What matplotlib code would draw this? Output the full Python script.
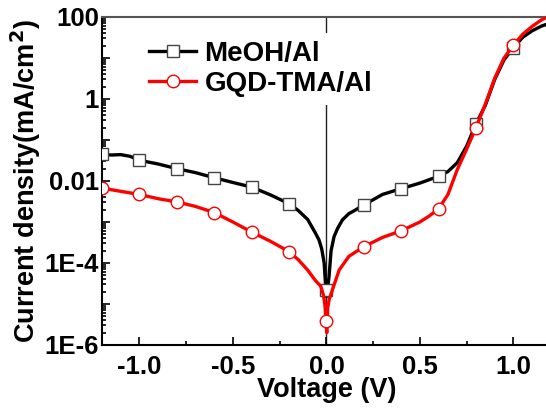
import numpy as np
import matplotlib
matplotlib.use('Agg')
import matplotlib.pyplot as plt
from matplotlib.lines import Line2D
from matplotlib.ticker import LogLocator, FixedLocator, FuncFormatter, NullFormatter

# MeOH/Al curve (voltage, current density)
v_meoh = [-1.2, -1.15, -1.1, -1.05, -1.0, -0.9, -0.8, -0.7, -0.6, -0.5, -0.4, -0.3,
          -0.2, -0.15, -0.1, -0.06, -0.04, -0.025, -0.012, -0.004, 0.0, 0.004, 0.014,
          0.025, 0.041, 0.06, 0.086, 0.12, 0.15, 0.2, 0.3, 0.4, 0.5, 0.6, 0.65, 0.7,
          0.75, 0.8, 0.85, 0.9, 0.95, 1.0, 1.05, 1.1, 1.15, 1.2]
j_meoh = [0.045, 0.043, 0.044, 0.040, 0.032, 0.026, 0.020, 0.016, 0.012, 0.0092, 0.0071,
          0.0046, 0.0028, 0.0019, 0.00115, 5.5e-4, 3.7e-4, 2.2e-4, 1.0e-4, 2.7e-5, 1.5e-5,
          2.0e-5, 4.6e-5, 2.0e-4, 4.4e-4, 7.0e-4, 0.00113, 0.0016, 0.0019, 0.0026, 0.0047,
          0.0065, 0.0089, 0.013, 0.017, 0.028, 0.071, 0.25, 0.7, 3.0, 9.0, 18, 32, 46, 60, 72]

# GQD-TMA/Al curve
v_gqd = [-1.2, -1.1, -1.0, -0.9, -0.8, -0.7, -0.6, -0.5, -0.4, -0.3, -0.2, -0.15, -0.1,
         -0.06, -0.03, -0.015, -0.007, -0.002, 0.002, 0.007, 0.015, 0.032, 0.068, 0.12,
         0.2, 0.3, 0.4, 0.5, 0.55, 0.6, 0.65, 0.7, 0.75, 0.8, 0.85, 0.9, 0.95, 1.0, 1.05,
         1.1, 1.15, 1.2]
j_gqd = [0.0067, 0.0056, 0.0047, 0.0037, 0.0031, 0.0024, 0.0017, 0.0010, 5.7e-4, 3.4e-4,
         1.9e-4, 1.2e-4, 6.7e-5, 3.8e-5, 2.7e-5, 1.6e-5, 8.7e-6, 3.5e-6, 2.0e-6, 8.0e-6,
         1.3e-5, 2.2e-5, 6.7e-5, 1.45e-4, 2.5e-4, 4.2e-4, 6.1e-4, 0.0010, 0.0014, 0.0021,
         0.0047, 0.019, 0.06, 0.2, 0.75, 3.2, 10, 20.5, 38, 59, 85, 110]

# symbols every 0.2 V
v_mark = [-1.2, -1.0, -0.8, -0.6, -0.4, -0.2, 0.0, 0.2, 0.4, 0.6, 0.8, 1.0]
j_mark_meoh = [0.045, 0.032, 0.020, 0.012, 0.0071, 0.0028, 2.2e-5, 0.0026, 0.0065, 0.013, 0.25, 18]
j_mark_gqd = [0.0067, 0.0047, 0.0031, 0.0017, 5.7e-4, 1.9e-4, 3.9e-6, 2.5e-4, 6.1e-4, 0.0021, 0.2, 20.5]

labels = ['MeOH/Al', 'GQD-TMA/Al']

plt.rcParams['font.family'] = ['Liberation Sans', 'DejaVu Sans']
plt.rcParams['font.weight'] = 'bold'

fig = plt.figure(figsize=(5.46, 4.12), dpi=100)
# right edge of the axes lies past the figure, as in the cropped original
ax = fig.add_axes([102 / 546, 67 / 412, 2.4 * 187 / 546, 328 / 412])

ax.axvline(0, color='#222222', lw=1.0, zorder=1)

ax.plot(v_meoh, j_meoh, color='black', lw=2.4, zorder=2)
ax.plot(v_mark, j_mark_meoh, ls='none', marker='s', ms=8, mfc='white', mec='#444444', mew=1.0, zorder=3)
ax.plot(v_gqd, j_gqd, color='#ff0000', lw=2.4, zorder=4)
ax.plot(v_mark, j_mark_gqd, ls='none', marker='o', ms=9, mfc='white', mec='#ff0000', mew=1.0, zorder=5)

ax.set_yscale('log')
ax.set_xlim(-1.2, 1.2)
ax.set_ylim(1e-6, 100)

ax.xaxis.set_major_locator(FixedLocator([-1.0, -0.5, 0.0, 0.5, 1.0]))
ax.xaxis.set_minor_locator(FixedLocator([-0.75, -0.25, 0.25, 0.75]))
ax.xaxis.set_major_formatter(FuncFormatter(lambda x, p: '%.1f' % x))

names = {2: '100', 0: '1', -2: '0.01', -4: '1E-4', -6: '1E-6'}
ax.yaxis.set_major_locator(LogLocator(base=10, numticks=20))
ax.yaxis.set_minor_locator(LogLocator(base=10, subs=np.arange(2, 10), numticks=20))
ax.yaxis.set_major_formatter(FuncFormatter(lambda y, p: names.get(int(round(np.log10(y))), '')))
ax.yaxis.set_minor_formatter(NullFormatter())

ax.tick_params(which='both', direction='in', top=False, right=False, labelsize=18.5, width=1.2)
ax.tick_params(which='major', length=6)
ax.tick_params(which='minor', length=3)
ax.tick_params(axis='x', pad=7)
ax.tick_params(axis='y', pad=2)

for s in ['left', 'bottom']:
    ax.spines[s].set_linewidth(1.5)
ax.spines['top'].set_color('#555555')
ax.spines['top'].set_linewidth(1.5)
ax.spines['right'].set_visible(False)

ax.set_xlabel('Voltage (V)', fontsize=19.5, fontweight='bold', labelpad=-1)
ax.set_ylabel('Current density(mA/cm$^\\mathbf{2}$)', fontsize=19.5, fontweight='bold', labelpad=1)

handles = [
    Line2D([], [], color='black', lw=2.4, marker='s', ms=8, mfc='white', mec='#444444'),
    Line2D([], [], color='#ff0000', lw=2.4, marker='o', ms=9, mfc='white', mec='#ff0000'),
]
leg = ax.legend(handles, labels, loc='upper left', bbox_to_anchor=(0.055, 0.995), fontsize=20,
                frameon=True, framealpha=1, edgecolor='none', facecolor='white',
                handlelength=1.7, handletextpad=0.3, labelspacing=0.15, borderpad=0.3)
leg.set_zorder(10)
for t in leg.get_texts():
    t.set_fontweight('bold')

fig.savefig('out.png', dpi=100)
